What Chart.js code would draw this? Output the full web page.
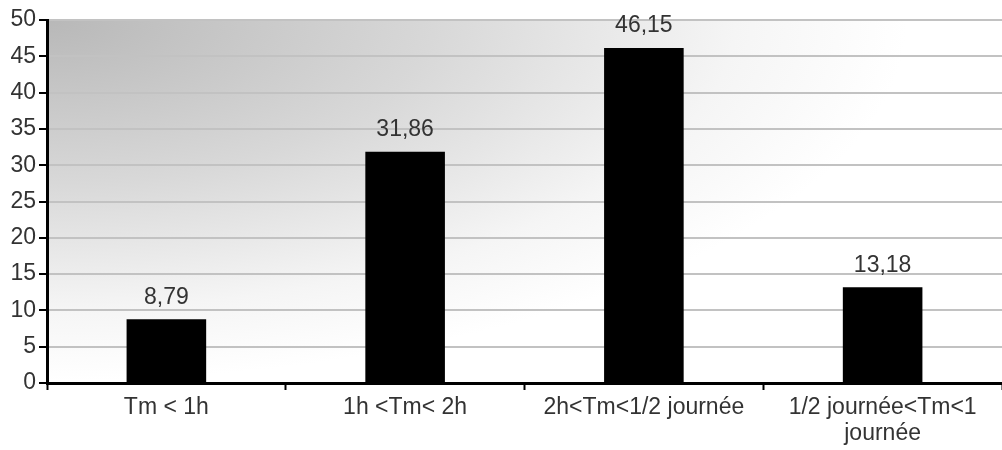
<!DOCTYPE html>
<html>
    <head>
        <meta charset = "UTF-8">
        <title>Temps moyen</title>
        <script src = "https://cdn.jsdelivr.net/npm/chart.js@4"></script>
        <style>
            body{margin:0;background:#fff;overflow:hidden;}
            #box{width:1002px;height:450px;position:relative;}
        </style>
    </head>
    <body>
        <div id = "box"><canvas id = "chart"></canvas></div>
        <script>
            // categories (x axis) and the percentages
            const categories = [
                "Tm < 1h",
                "1h <Tm< 2h",
                "2h<Tm<1/2 journée",
                ["1/2 journée<Tm<1", "journée"]
            ];
            const values = [8.79, 31.86, 46.15, 13.18];
            const yTicks = {min:0, max:50, step:5};

            const textColor = "#333";
            const fontFamily = "'Liberation Sans', Arial, sans-serif";

            //grey shading in the top-left corner of the plot
            const backdrop = {
                id:"backdrop",
                beforeDraw(chart){
                    const {ctx, chartArea:a} = chart;
                    ctx.save();
                    ctx.beginPath();
                    ctx.rect(a.left, a.top, a.right - a.left, a.bottom - a.top);
                    ctx.clip();
                    ctx.translate(a.left, a.top);
                    ctx.scale(1, 0.42);
                    const g = ctx.createRadialGradient(0, 0, 0, 0, 0, 860);
                    g.addColorStop(0, "#b8b8b8");
                    g.addColorStop(0.45, "#d8d8d8");
                    g.addColorStop(0.8, "#f5f5f5");
                    g.addColorStop(1, "#ffffff");
                    ctx.fillStyle = g;
                    ctx.fillRect(0, 0, 2000, 2000 / 0.42);
                    ctx.restore();
                }
            };

            //value written above each bar, french decimal comma
            const barLabels = {
                id:"barLabels",
                afterDatasetsDraw(chart){
                    const {ctx} = chart;
                    const meta = chart.getDatasetMeta(0);
                    ctx.save();
                    ctx.font = "23px " + fontFamily;
                    ctx.fillStyle = textColor;
                    ctx.textAlign = "center";
                    ctx.textBaseline = "middle";
                    meta.data.forEach((bar, i) => {
                        const txt = values[i].toFixed(2).replace(".", ",");
                        ctx.fillText(txt, bar.x, bar.y - 22);
                    });
                    ctx.restore();
                }
            };

            new Chart(document.getElementById("chart"), {
                type:"bar",
                data:{
                    labels:categories,
                    datasets:[{
                        data:values,
                        backgroundColor:"#000",
                        borderWidth:0,
                        categoryPercentage:1,
                        barPercentage:1/3
                    }]
                },
                options:{
                    responsive:true,
                    maintainAspectRatio:false,
                    animation:false,
                    layout:{padding:{top:20, right:0, left:0, bottom:0}},
                    plugins:{legend:{display:false}, tooltip:{enabled:false}},
                    scales:{
                        x:{
                            grid:{
                                offset:true,
                                drawOnChartArea:false,
                                tickLength:7,
                                tickWidth:2,
                                tickColor:"#000"
                            },
                            border:{color:"#000", width:3},
                            ticks:{
                                color:textColor,
                                font:{size:23, family:fontFamily, lineHeight:1.15},
                                padding:4,
                                maxRotation:0,
                                autoSkip:false
                            },
                            afterFit:(s) => { s.height = 67; }
                        },
                        y:{
                            min:yTicks.min,
                            max:yTicks.max,
                            grid:{
                                color:"#c2c2c2",
                                lineWidth:2,
                                tickLength:8,
                                tickWidth:2,
                                tickColor:"#000"
                            },
                            border:{color:"#000", width:3},
                            ticks:{
                                stepSize:yTicks.step,
                                color:textColor,
                                font:{size:23, family:fontFamily},
                                padding:3
                            },
                            afterFit:(s) => { s.width = 47; }
                        }
                    }
                },
                plugins:[backdrop, barLabels]
            });
        </script>
    </body>
</html>
